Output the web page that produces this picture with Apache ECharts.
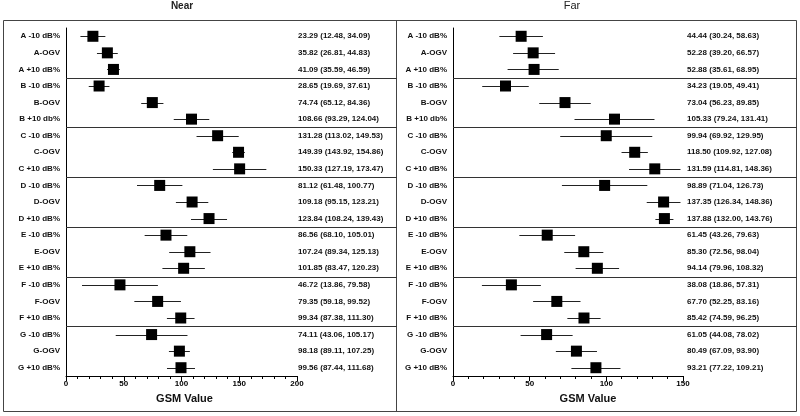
<!DOCTYPE html>
<html>
<head>
<meta charset="utf-8">
<script src="https://cdn.jsdelivr.net/npm/echarts@6/dist/echarts.min.js"></script>
<style>
html, body { margin: 0; padding: 0; background: #fff; }
#main { width: 800px; height: 416px; }
</style>
</head>
<body>
<div id="main"></div>
<script>
// row labels (same for both panels)
var rowLabels = ['A -10 dB%', 'A-OGV', 'A +10 dB%',
	'B -10 dB%', 'B-OGV', 'B +10 db%',
	'C -10 dB%', 'C-OGV', 'C +10 dB%',
	'D -10 dB%', 'D-OGV', 'D +10 dB%',
	'E -10 dB%', 'E-OGV', 'E +10 dB%',
	'F -10 dB%', 'F-OGV', 'F +10 dB%',
	'G -10 dB%', 'G-OGV', 'G +10 dB%'];
// last row of each group (a line is drawn under it)
var groupEnds = [2, 5, 8, 11, 14, 17];

// Near
var nearEst = [23.29, 35.82, 41.09, 28.65, 74.74, 108.66, 131.28, 149.39, 150.33, 81.12, 109.18, 123.84, 86.56, 107.24, 101.85, 46.72, 79.35, 99.34, 74.11, 98.18, 99.56];
var nearLow = [12.48, 26.81, 35.59, 19.69, 65.12, 93.29, 113.02, 143.92, 127.19, 61.48, 95.15, 108.24, 68.10, 89.34, 83.47, 13.86, 59.18, 87.38, 43.06, 89.11, 87.44];
var nearHigh = [34.09, 44.83, 46.59, 37.61, 84.36, 124.04, 149.53, 154.86, 173.47, 100.77, 123.21, 139.43, 105.01, 125.13, 120.23, 79.58, 99.52, 111.30, 105.17, 107.25, 111.68];
var nearMax = 200;

// Far
var farEst = [44.44, 52.28, 52.88, 34.23, 73.04, 105.33, 99.94, 118.50, 131.59, 98.89, 137.35, 137.88, 61.45, 85.30, 94.14, 38.08, 67.70, 85.42, 61.05, 80.49, 93.21];
var farLow = [30.24, 39.20, 35.61, 19.05, 56.23, 79.24, 69.92, 109.92, 114.81, 71.04, 126.34, 132.00, 43.26, 72.56, 79.96, 18.86, 52.25, 74.59, 44.08, 67.09, 77.22];
var farHigh = [58.63, 66.57, 68.95, 49.41, 89.85, 131.41, 129.95, 127.08, 148.36, 126.73, 148.36, 143.76, 79.63, 98.04, 108.32, 57.31, 83.16, 96.25, 78.02, 93.90, 109.21];
var farMax = 150;

var FONT = '"Liberation Sans", Arial, sans-serif';

function textRows(est, low, high) {
	var out = [];
	for (var i = 0; i < est.length; i++) {
		out.push(est[i].toFixed(2) + ' (' + low[i].toFixed(2) + ', ' + high[i].toFixed(2) + ')');
	}
	return out;
}

function barData(low, high) {
	var out = [];
	for (var i = 0; i < low.length; i++) {
		out.push([low[i], high[i], i]);
	}
	return out;
}

function pointData(est) {
	var out = [];
	for (var i = 0; i < est.length; i++) {
		out.push([est[i], i]);
	}
	return out;
}

function xAxisFor(idx, max, namePad) {
	return {
		gridIndex: idx,
		type: 'value',
		min: 0,
		max: max,
		interval: 50,
		name: 'GSM Value',
		nameLocation: 'middle',
		nameGap: 17,
		nameTextStyle: { fontFamily: FONT, fontSize: 11, fontWeight: 'bold', color: '#111', padding: namePad },
		axisLine: { show: true, lineStyle: { color: '#000', width: 1 } },
		axisTick: { show: true, length: 5, lineStyle: { color: '#000' } },
		minorTick: { show: true, splitNumber: 5, length: 3, lineStyle: { color: '#000' } },
		splitLine: { show: false },
		axisLabel: { fontFamily: FONT, fontSize: 8, fontWeight: 'bold', color: '#000', margin: 4 }
	};
}

function yLabelAxis(idx) {
	return {
		gridIndex: idx,
		type: 'category',
		data: rowLabels,
		inverse: true,
		position: 'left',
		axisLine: { show: true, lineStyle: { color: '#000', width: 1 } },
		axisTick: { show: false },
		splitLine: { show: false },
		axisLabel: { fontFamily: FONT, fontSize: 8, fontWeight: 'bold', color: '#111', margin: 6 }
	};
}

function yTextAxis(idx, texts, margin) {
	return {
		gridIndex: idx,
		type: 'category',
		data: texts,
		inverse: true,
		position: 'right',
		axisLine: { show: false },
		axisTick: { show: false },
		splitLine: { show: false },
		axisLabel: { fontFamily: FONT, fontSize: 8, fontWeight: 'bold', color: '#111', margin: margin, align: 'left' }
	};
}

function whiskers(xi, yi, low, high) {
	return {
		type: 'custom',
		xAxisIndex: xi,
		yAxisIndex: yi,
		data: barData(low, high),
		encode: { x: [0, 1], y: 2 },
		renderItem: function (params, api) {
			var a = api.coord([api.value(0), api.value(2)]);
			var b = api.coord([api.value(1), api.value(2)]);
			return {
				type: 'line',
				shape: { x1: a[0], y1: Math.round(a[1]) + 0.5, x2: b[0], y2: Math.round(b[1]) + 0.5 },
				style: { stroke: '#222', lineWidth: 1 }
			};
		}
	};
}

function separators(xi, yi, extra) {
	return {
		type: 'custom',
		xAxisIndex: xi,
		yAxisIndex: yi,
		clip: false,
		silent: true,
		data: groupEnds.map(function (g) { return [0, g]; }),
		renderItem: function (params, api) {
			var p1 = api.coord([0, api.value(1)]);
			var p2 = api.coord([0, api.value(1) + 1]);
			var y = Math.round((p1[1] + p2[1]) / 2) + 0.5;
			var cs = params.coordSys;
			return {
				type: 'line',
				shape: { x1: p1[0], y1: y, x2: cs.x + cs.width + extra, y2: y },
				style: { stroke: '#333', lineWidth: 1 }
			};
		}
	};
}

function squares(xi, yi, est) {
	return {
		type: 'scatter',
		xAxisIndex: xi,
		yAxisIndex: yi,
		data: pointData(est),
		symbol: 'rect',
		symbolSize: 11,
		itemStyle: { color: '#000', opacity: 1 },
		z: 5
	};
}

var chart = echarts.init(document.getElementById('main'), null, { renderer: 'canvas' });
var option = {
	animation: false,
	backgroundColor: '#fff',
	grid: [
		{ left: 66, top: 28, width: 231, height: 348 },
		{ left: 453, top: 28, width: 230, height: 348 }
	],
	xAxis: [xAxisFor(0, nearMax, [0, 0, 0, 6]), xAxisFor(1, farMax, [0, 0, 0, 40])],
	yAxis: [
		yLabelAxis(0),
		yTextAxis(0, textRows(nearEst, nearLow, nearHigh), 1),
		yLabelAxis(1),
		yTextAxis(1, textRows(farEst, farLow, farHigh), 4)
	],
	graphic: [
		{ type: 'rect', shape: { x: 3.5, y: 20.5, width: 793, height: 391 }, style: { fill: 'none', stroke: '#444', lineWidth: 1 }, silent: true },
		{ type: 'line', shape: { x1: 396.5, y1: 20, x2: 396.5, y2: 412 }, style: { stroke: '#444', lineWidth: 1 }, silent: true },
		{ type: 'text', x: 182, y: 6, style: { text: 'Near', fontFamily: FONT, fontSize: 10, fontWeight: 'bold', fill: '#222', align: 'center', verticalAlign: 'middle' } },
		{ type: 'text', x: 572, y: 6, style: { text: 'Far', fontFamily: FONT, fontSize: 11, fill: '#222', align: 'center', verticalAlign: 'middle' } }
	],
	series: [
		separators(0, 0, 100),
		whiskers(0, 0, nearLow, nearHigh),
		squares(0, 0, nearEst),
		separators(1, 2, 114),
		whiskers(1, 2, farLow, farHigh),
		squares(1, 2, farEst)
	]
};
chart.setOption(option);
</script>
</body>
</html>
